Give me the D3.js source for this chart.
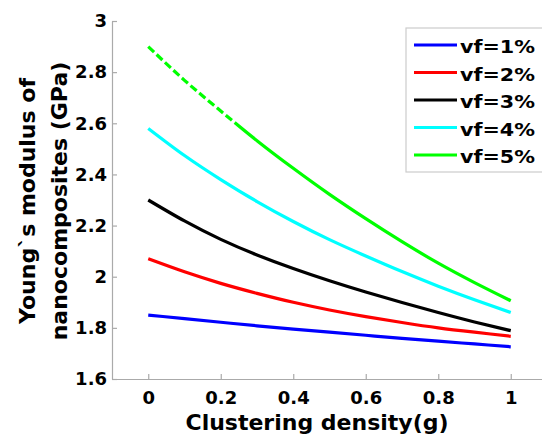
<!DOCTYPE html>
<html>
<head>
<meta charset="utf-8">
<script src="https://cdn.jsdelivr.net/npm/d3@7"></script>
<style>
  body { margin: 0; background: #fff; }
  svg { display: block; font-family: "DejaVu Sans", Verdana, sans-serif; font-weight: bold; }
</style>
</head>
<body>
<div id="chart"></div>
<script>
// clustering density g
const gValues = [0, 0.1, 0.2, 0.3, 0.4, 0.5, 0.6, 0.7, 0.8, 0.9, 1];

// Young's modulus (GPa) per volume fraction
const vf1 = [1.850, 1.836, 1.822, 1.808, 1.795, 1.783, 1.771, 1.759, 1.748, 1.737, 1.726];
const vf2 = [2.070, 2.019, 1.974, 1.935, 1.900, 1.870, 1.844, 1.821, 1.800, 1.783, 1.767];
const vf3 = [2.300, 2.218, 2.146, 2.085, 2.032, 1.984, 1.940, 1.899, 1.860, 1.823, 1.789];
const vf4 = [2.580, 2.474, 2.380, 2.294, 2.216, 2.145, 2.081, 2.020, 1.963, 1.910, 1.860];
const vf5 = [2.900, 2.768, 2.648, 2.532, 2.424, 2.322, 2.227, 2.137, 2.053, 1.977, 1.906];

const seriesNames = ["vf=1%", "vf=2%", "vf=3%", "vf=4%", "vf=5%"];
const seriesColors = ["#0000ff", "#ff0000", "#000000", "#00ffff", "#00ff00"];
const seriesValues = [vf1, vf2, vf3, vf4, vf5];

// vf=5% is drawn dashed up to this g
const dashedUntil = 0.25;

const xTicks = [0, 0.2, 0.4, 0.6, 0.8, 1];
const xTickLabels = ["0", "0.2", "0.4", "0.6", "0.8", "1"];
const yTicks = [1.6, 1.8, 2, 2.2, 2.4, 2.6, 2.8, 3];
const yTickLabels = ["1.6", "1.8", "2", "2.2", "2.4", "2.6", "2.8", "3"];

const width = 542;
const height = 437;

const svg = d3.select("#chart")
    .append("svg")
    .attr("width", width)
    .attr("height", height);

const x = d3.scaleLinear()
    .domain([-0.1, 1.1])
    .range([112, 547]);

const y = d3.scaleLinear()
    .domain([1.6, 3])
    .range([379, 21]);

const axisColor = "#aaaaaa";

// x axis
const gx = svg.append("g")
    .attr("transform", `translate(0,${y(1.6)})`)
    .call(d3.axisBottom(x)
        .tickValues(xTicks)
        .tickFormat((d, i) => xTickLabels[i])
        .tickSize(-5)
        .tickSizeOuter(0)
        .tickPadding(12));

// y axis
const gy = svg.append("g")
    .attr("transform", `translate(${x(-0.1)},0)`)
    .call(d3.axisLeft(y)
        .tickValues(yTicks)
        .tickFormat((d, i) => yTickLabels[i])
        .tickSize(-5)
        .tickSizeOuter(0)
        .tickPadding(5));

[gx, gy].forEach(g => {
    g.select(".domain").attr("stroke", axisColor).attr("stroke-width", 1.2);
    g.selectAll(".tick line").attr("stroke", axisColor).attr("stroke-width", 1.2);
    g.selectAll(".tick text")
        .attr("fill", "#000")
        .style("font-size", "18px")
        .style("font-weight", "bold")
        .style("font-family", "'DejaVu Sans', Verdana, sans-serif");
});

// axis titles
svg.append("text")
    .attr("x", 317)
    .attr("y", 430)
    .attr("text-anchor", "middle")
    .style("font-size", "22px")
    .text("Clustering density(g)");

const yTitle = svg.append("text")
    .attr("transform", "translate(0,201) rotate(-90)")
    .attr("text-anchor", "middle")
    .style("font-size", "22px");
yTitle.append("tspan").attr("x", 0).attr("y", 35).text("Young`s modulus of");
yTitle.append("tspan").attr("x", 0).attr("y", 67).text("nanocomposites (GPa)");

// clip regions for the dashed / solid parts of vf=5%
const defs = svg.append("defs");
defs.append("clipPath").attr("id", "clip-dash")
    .append("rect")
    .attr("x", 0).attr("y", 0)
    .attr("width", x(dashedUntil)).attr("height", height);
defs.append("clipPath").attr("id", "clip-solid")
    .append("rect")
    .attr("x", x(dashedUntil)).attr("y", 0)
    .attr("width", width - x(dashedUntil)).attr("height", height);

const line = d3.line()
    .x((d, i) => x(gValues[i]))
    .y(d => y(d))
    .curve(d3.curveNatural);

seriesValues.forEach((vals, k) => {
    if (k === 4) {
        svg.append("path")
            .datum(vals)
            .attr("fill", "none")
            .attr("stroke", seriesColors[k])
            .attr("stroke-width", 3.2)
            .attr("stroke-dasharray", "8,3.5")
            .attr("clip-path", "url(#clip-dash)")
            .attr("d", line);
        svg.append("path")
            .datum(vals)
            .attr("fill", "none")
            .attr("stroke", seriesColors[k])
            .attr("stroke-width", 3.2)
            .attr("clip-path", "url(#clip-solid)")
            .attr("d", line);
    } else {
        svg.append("path")
            .datum(vals)
            .attr("fill", "none")
            .attr("stroke", seriesColors[k])
            .attr("stroke-width", 3.2)
            .attr("d", line);
    }
});

// legend
const legend = svg.append("g").attr("transform", "translate(406,28)");
legend.append("rect")
    .attr("x", 0).attr("y", 0)
    .attr("width", 145).attr("height", 144)
    .attr("fill", "#fff")
    .attr("stroke", "#cccccc")
    .attr("stroke-width", 1.2);

seriesNames.forEach((name, i) => {
    const row = legend.append("g").attr("transform", `translate(0,${17 + i * 27.5})`);
    row.append("line")
        .attr("x1", 8).attr("x2", 51)
        .attr("y1", 0).attr("y2", 0)
        .attr("stroke", seriesColors[i])
        .attr("stroke-width", 3);
    row.append("text")
        .attr("x", 54)
        .attr("y", 8)
        .attr("textLength", 75)
        .attr("lengthAdjust", "spacingAndGlyphs")
        .style("font-size", "17px")
        .text(name);
});
</script>
</body>
</html>
